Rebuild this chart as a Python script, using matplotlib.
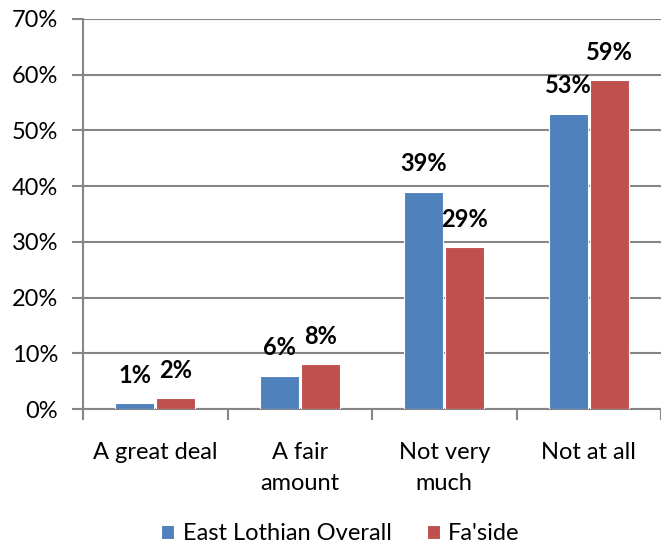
import matplotlib
matplotlib.use("Agg")
import matplotlib.pyplot as plt
import numpy as np
from matplotlib.ticker import FixedLocator

categories = ["A great deal", "A fair\namount", "Not very\nmuch", "Not at all"]
series_names = ["East Lothian Overall", "Fa'side"]
east_lothian = [1, 6, 39, 53]
fasside = [2, 8, 29, 59]
y_ticks = [0, 10, 20, 30, 40, 50, 60, 70]

plt.rcParams['font.family'] = ['Lato', 'DejaVu Sans']

fig = plt.figure(figsize=(6.61, 5.49), dpi=100)
ax = fig.add_axes([0.1256, 0.255, 0.8744, 0.7104])

x = np.arange(len(categories))
w = 0.27
off = 0.141
colors = ["#4F81BD", "#C0504D"]
grid_c = "#868686"
fs = 17

for vals, dx, c, name in [(east_lothian, -off, colors[0], series_names[0]),
                          (fasside, off, colors[1], series_names[1])]:
    ax.bar(x + dx, vals, width=w, color=c, edgecolor="white", linewidth=0.8,
           label=name, zorder=3)
    for xi, v in zip(x + dx, vals):
        ax.annotate(f"{v}%", (xi, v), xytext=(0, 20), textcoords="offset points",
                    ha="center", va="center", fontsize=fs, fontweight="bold", zorder=4)

ax.set_xlim(-0.5, 3.5)
ax.set_ylim(0, 70)
ax.set_yticks(y_ticks)
ax.set_yticklabels([f"{t}%" for t in y_ticks], fontsize=fs)
ax.yaxis.grid(True, color=grid_c, linewidth=1.5, zorder=0)
ax.set_axisbelow(True)

ax.set_xticks(x)
ax.set_xticklabels(categories, fontsize=fs, linespacing=1.55)
ax.tick_params(axis="x", length=0, pad=24)
ax.xaxis.set_minor_locator(FixedLocator([-0.5, 0.5, 1.5, 2.5, 3.5]))
ax.tick_params(axis="x", which="minor", length=8, width=1.5, color=grid_c, direction="out")
ax.tick_params(axis="y", length=8, width=1.5, color=grid_c, direction="out", pad=10)

for s in ["top", "right"]:
    ax.spines[s].set_visible(False)
for s in ["left", "bottom"]:
    ax.spines[s].set_color(grid_c)
    ax.spines[s].set_linewidth(1.5)

fig.legend(loc="lower center", bbox_to_anchor=(0.515, -0.03), ncol=2, frameon=False,
           fontsize=fs, handlelength=0.55, handleheight=0.55, handletextpad=0.35,
           columnspacing=1.5)

fig.savefig("out.png", dpi=100)
